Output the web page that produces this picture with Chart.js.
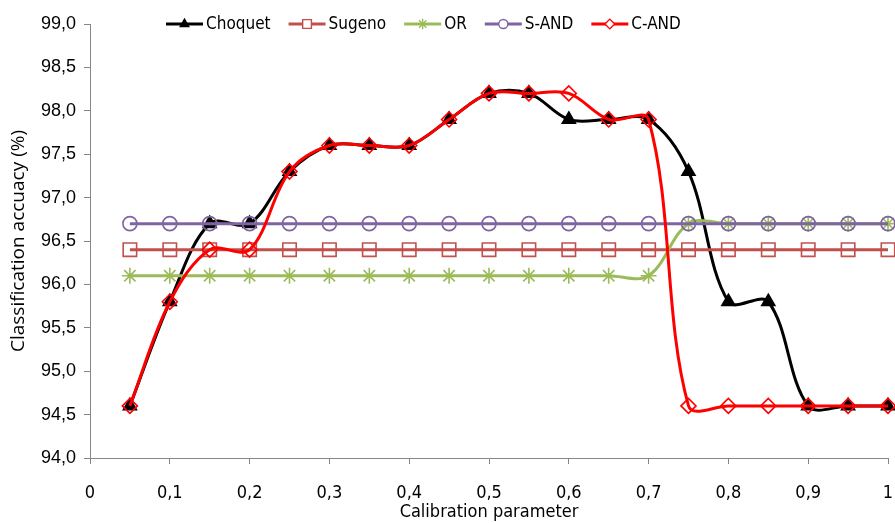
<!DOCTYPE html>
<html>
<head>
<meta charset="utf-8">
<script src="https://cdn.jsdelivr.net/npm/chart.js@4/dist/chart.umd.min.js"></script>
<style>
  html, body { margin: 0; padding: 0; background: #fff; }
  #wrap { width: 895px; height: 523px; position: relative; }
</style>
</head>
<body>
<div id="wrap"><canvas id="accChart"></canvas></div>
<script>
// valeurs
const calibration = [0.05, 0.1, 0.15, 0.2, 0.25, 0.3, 0.35, 0.4, 0.45, 0.5,
                     0.55, 0.6, 0.65, 0.7, 0.75, 0.8, 0.85, 0.9, 0.95, 1.0];
const choquet = [94.6, 95.8, 96.7, 96.7, 97.3, 97.6, 97.6, 97.6, 97.9, 98.2,
                 98.2, 97.9, 97.9, 97.9, 97.3, 95.8, 95.8, 94.6, 94.6, 94.6];
const sugeno  = [96.4, 96.4, 96.4, 96.4, 96.4, 96.4, 96.4, 96.4, 96.4, 96.4,
                 96.4, 96.4, 96.4, 96.4, 96.4, 96.4, 96.4, 96.4, 96.4, 96.4];
const orVals  = [96.1, 96.1, 96.1, 96.1, 96.1, 96.1, 96.1, 96.1, 96.1, 96.1,
                 96.1, 96.1, 96.1, 96.1, 96.7, 96.7, 96.7, 96.7, 96.7, 96.7];
const sAnd    = [96.7, 96.7, 96.7, 96.7, 96.7, 96.7, 96.7, 96.7, 96.7, 96.7,
                 96.7, 96.7, 96.7, 96.7, 96.7, 96.7, 96.7, 96.7, 96.7, 96.7];
const cAnd    = [94.6, 95.8, 96.4, 96.4, 97.3, 97.6, 97.6, 97.6, 97.9, 98.2,
                 98.2, 98.2, 97.9, 97.9, 94.6, 94.6, 94.6, 94.6, 94.6, 94.6];
const seriesNames = ['Choquet', 'Sugeno', 'OR', 'S-AND', 'C-AND'];

const AXIS_GREY = '#868686';
const NARROW = "'Liberation Sans Narrow', 'DejaVu Sans Condensed', sans-serif";
const comma = v => v.toString().replace('.', ',');

function toPoints(arr) {
  return arr.map((y, i) => ({ x: calibration[i], y: y }));
}

// style commun des séries (ordre: la dernière dessinée au-dessus)
function serie(label, data, color, style, radius, filled, order) {
  return {
    label: label,
    data: toPoints(data),
    borderColor: color,
    backgroundColor: filled ? color : '#ffffff',
    pointBackgroundColor: filled ? color : 'rgba(255,255,255,0)',
    pointBorderColor: color,
    pointStyle: style,
    pointRadius: radius,
    pointHoverRadius: radius,
    pointBorderWidth: 1.6,
    borderWidth: 3,
    tension: 0.35,
    fill: false,
    clip: 12,
    order: order
  };
}

const datasets = [
  serie(seriesNames[0], choquet, '#000000', 'triangle', 7.5, true, 4),
  serie(seriesNames[1], sugeno, '#C0504D', 'rect', 9.5, false, 3),
  serie(seriesNames[2], orVals, '#9BBB59', 'star', 8, false, 2),
  serie(seriesNames[3], sAnd, '#8064A2', 'circle', 7, false, 1),
  serie(seriesNames[4], cAnd, '#FF0000', 'rectRot', 7.5, false, 0)
];

// légende façon Excel : trait + marqueur, en haut du graphique
const excelLegend = {
  id: 'excelLegend',
  afterDraw(chart) {
    const ctx = chart.ctx;
    const y = 24;
    let x = 166;
    ctx.save();
    ctx.font = '17px ' + NARROW;
    ctx.textBaseline = 'middle';
    chart.data.datasets.forEach(ds => {
      ctx.strokeStyle = ds.borderColor;
      ctx.lineWidth = 3;
      ctx.beginPath();
      ctx.moveTo(x, y);
      ctx.lineTo(x + 37, y);
      ctx.stroke();
      ctx.fillStyle = ds.pointBackgroundColor === 'rgba(255,255,255,0)' ? '#ffffff' : ds.pointBackgroundColor;
      ctx.strokeStyle = ds.pointBorderColor;
      ctx.lineWidth = 1.4;
      Chart.helpers.drawPoint(ctx, {
        pointStyle: ds.pointStyle,
        radius: ds.pointRadius * 0.65,
        borderWidth: 1.4,
        rotation: 0
      }, x + 18.5, y);
      ctx.fillStyle = '#000000';
      ctx.fillText(ds.label, x + 40, y + 1);
      x += 40 + ctx.measureText(ds.label).width + 18;
    });
    ctx.restore();
  }
};

const ctx = document.getElementById('accChart').getContext('2d');
new Chart(ctx, {
  type: 'line',
  data: { datasets: datasets },
  plugins: [excelLegend],
  options: {
    responsive: true,
    maintainAspectRatio: false,
    animation: false,
    layout: { autoPadding: false, padding: { top: 24, right: 7, bottom: 0, left: 6 } },
    plugins: {
      legend: { display: false },
      tooltip: { enabled: false }
    },
    scales: {
      x: {
        type: 'linear',
        min: 0,
        max: 1,
        afterFit(scale) {
          scale.height = 65;
          scale.paddingLeft = 0;
          scale.paddingRight = 0;
        },
        border: { display: true, color: AXIS_GREY, width: 1 },
        grid: { drawOnChartArea: false, color: AXIS_GREY, tickLength: 6 },
        ticks: {
          stepSize: 0.1,
          color: '#000000',
          padding: 19,
          maxRotation: 0,
          font: { family: NARROW, size: 18 },
          callback: v => comma(Math.round(v * 10) / 10)
        },
        title: {
          display: true,
          text: 'Calibration parameter',
          color: '#000000',
          padding: { top: 0, bottom: 0 },
          font: { family: NARROW, size: 18 }
        }
      },
      y: {
        min: 94,
        max: 99,
        afterFit(scale) { scale.width = 84; },
        border: { display: true, color: AXIS_GREY, width: 1 },
        grid: { drawOnChartArea: false, color: AXIS_GREY, tickLength: 6 },
        ticks: {
          stepSize: 0.5,
          color: '#000000',
          padding: 8,
          font: { family: "'Liberation Sans', Arial, sans-serif", size: 18 },
          callback: v => v.toFixed(1).replace('.', ',')
        },
        title: {
          display: true,
          text: 'Classification accuacy (%)',
          color: '#000000',
          padding: { top: 1, bottom: 0 },
          font: { family: "'Open Sans', sans-serif", size: 19 }
        }
      }
    }
  }
});
</script>
</body>
</html>
